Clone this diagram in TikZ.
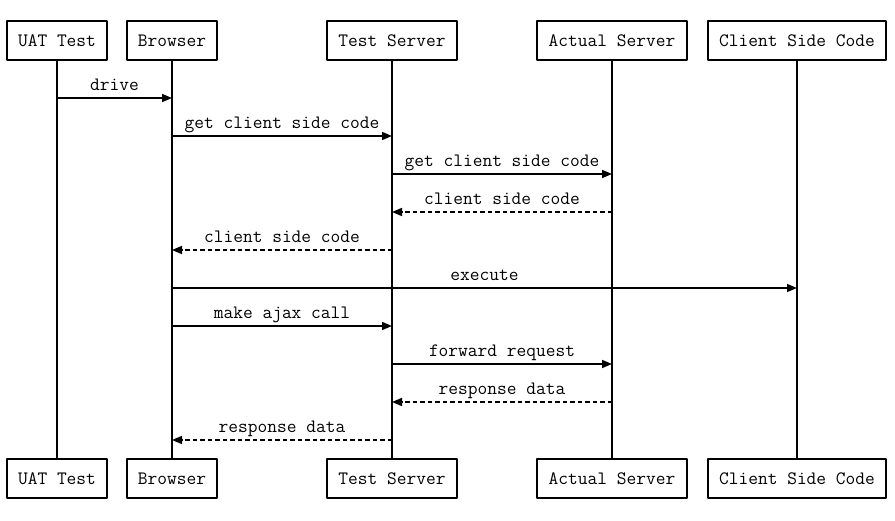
\documentclass[tikz,border=0pt]{standalone}
\usepackage{fontspec}
\usetikzlibrary{arrows.meta}
\begin{document}
\begin{tikzpicture}[x=1pt, y=-1pt, font=\ttfamily\fontsize{18.9}{22}\selectfont, line join=round, >={Triangle[length=10pt, width=8pt]}]
	\tikzset{
		actor/.style={draw, line width=1.6pt, minimum height=39pt, inner sep=0pt},
		life/.style={line width=1.6pt},
		msg/.style={->, line width=1.6pt},
		reply/.style={->, line width=1.6pt, dash pattern=on 4.5pt off 3pt},
		lbl/.style={anchor=base, yshift=8pt, inner sep=0pt}
	}
	\useasboundingbox (0,0) rectangle (895,520);
	% lifelines, heads at top and bottom
	\foreach \n/\xx/\w/\t in {uat/57/100/UAT Test, brw/172/90/Browser, tsv/392/130/Test Server, asv/612/150/Actual Server, csc/797/178/Client Side Code}{
		\node[actor, minimum width=\w pt] (\n T) at (\xx,40.5) {\t};
		\node[actor, minimum width=\w pt] (\n B) at (\xx,478.5) {\t};
		\draw[life] (\n T.south) -- (\n B.north);
	}
	% message rows
	\foreach \i/\yy in {1/98,2/136,3/174,4/212,5/250,6/288,7/326,8/364,9/402,10/440}
		\coordinate (m\i) at (0,\yy);
	\draw[msg] (uatT |- m1) -- node[lbl]{drive} (brwT |- m1);
	\draw[msg] (brwT |- m2) -- node[lbl]{get client side code} (tsvT |- m2);
	\draw[msg] (tsvT |- m3) -- node[lbl]{get client side code} (asvT |- m3);
	\draw[reply] (asvT |- m4) -- node[lbl]{client side code} (tsvT |- m4);
	\draw[reply] (tsvT |- m5) -- node[lbl]{client side code} (brwT |- m5);
	\draw[msg] (brwT |- m6) -- node[lbl]{execute} (cscT |- m6);
	\draw[msg] (brwT |- m7) -- node[lbl]{make ajax call} (tsvT |- m7);
	\draw[msg] (tsvT |- m8) -- node[lbl]{forward request} (asvT |- m8);
	\draw[reply] (asvT |- m9) -- node[lbl]{response data} (tsvT |- m9);
	\draw[reply] (tsvT |- m10) -- node[lbl]{response data} (brwT |- m10);
\end{tikzpicture}
\end{document}
